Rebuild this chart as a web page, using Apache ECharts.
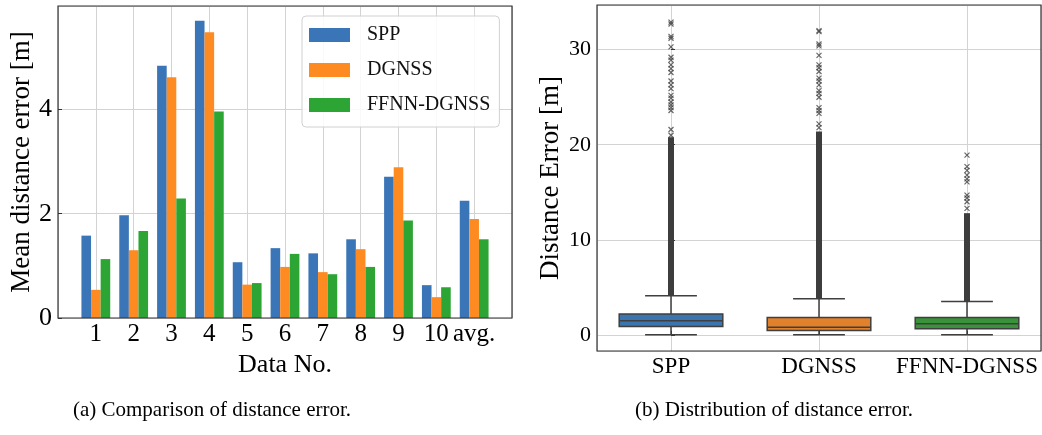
<!DOCTYPE html>
<html>
<head>
<meta charset="utf-8">
<script src="https://cdn.jsdelivr.net/npm/echarts@6/dist/echarts.min.js"></script>
<style>
  html, body { margin: 0; padding: 0; background: #fff; }
  #chart { width: 1042px; height: 435px; }
</style>
</head>
<body>
<div id="chart"></div>
<script>
// (a) mean distance error per data set
const dataNo = ["1", "2", "3", "4", "5", "6", "7", "8", "9", "10", "avg."];
const sppMean = [1.58, 1.97, 4.84, 5.70, 1.07, 1.34, 1.24, 1.51, 2.71, 0.63, 2.25];
const dgnssMean = [0.54, 1.30, 4.62, 5.48, 0.64, 0.98, 0.88, 1.32, 2.89, 0.40, 1.90];
const ffnnMean = [1.13, 1.67, 2.29, 3.96, 0.67, 1.23, 0.84, 0.98, 1.87, 0.59, 1.51];

// (b) distribution: [low whisker, q1, median, q3, high whisker]
const methods = ["SPP", "DGNSS", "FFNN-DGNSS"];
const boxStats = [
  [0, 0.87, 1.47, 2.20, 4.10],
  [0, 0.45, 0.81, 1.82, 3.80],
  [0, 0.63, 1.16, 1.82, 3.50],
];
// outliers so dense above the whisker that they merge into a band, up to:
const denseTop = [20.8, 21.4, 12.8];
// single outliers above the band
const sppOut = [21.0, 21.6, 23.6, 23.9, 24.2, 24.5, 24.9, 25.2, 25.9, 26.3, 26.7, 27.6, 28.0, 28.4, 28.9, 29.2, 30.3, 31.2, 31.4, 32.7, 32.9];
const dgnssOut = [21.8, 22.2, 23.3, 23.6, 23.9, 25.0, 25.4, 25.7, 26.3, 26.7, 27.0, 27.7, 28.1, 28.4, 29.4, 30.4, 30.6, 31.9, 32.0];
const ffnnOut = [13.3, 14.0, 14.4, 14.7, 16.1, 16.4, 16.8, 17.3, 17.7, 18.9];

const colors = ["#3a75b8", "#fe8b22", "#2ca534"];
const boxColors = ["#3a75b0", "#e1812c", "#3a923a"];
const font = "Liberation Serif";

// empty slots at both ends so the group spacing matches the figure
const xCats = [""].concat(dataNo, [""]);
const pad = (arr) => [null].concat(arr, [null]);

const outliers = [];
[sppOut, dgnssOut, ffnnOut].forEach((arr, i) => {
  arr.forEach((v) => outliers.push([i, v]));
});

const boxData = boxStats.map((s, i) => ({
  value: [i].concat(s, [denseTop[i]]),
  itemStyle: { color: boxColors[i] },
}));

function renderBox(params, api) {
  const x = api.value(0);
  const band = api.size([1, 0])[0];
  const boxW = band * 0.7;
  const capW = boxW * 0.5;
  const pLo = api.coord([x, api.value(1)]);
  const pQ1 = api.coord([x, api.value(2)]);
  const pMed = api.coord([x, api.value(3)]);
  const pQ3 = api.coord([x, api.value(4)]);
  const pHi = api.coord([x, api.value(5)]);
  const pTop = api.coord([x, api.value(6)]);
  const cx = pMed[0];
  const line = { stroke: "#3f3f3f", lineWidth: 1.5 };
  return {
    type: "group",
    children: [
      { type: "line", shape: { x1: cx, y1: pQ3[1], x2: cx, y2: pHi[1] }, style: line },
      { type: "line", shape: { x1: cx, y1: pQ1[1], x2: cx, y2: pLo[1] }, style: line },
      { type: "line", shape: { x1: cx - capW / 2, y1: pHi[1], x2: cx + capW / 2, y2: pHi[1] }, style: line },
      { type: "line", shape: { x1: cx - capW / 2, y1: pLo[1], x2: cx + capW / 2, y2: pLo[1] }, style: line },
      { type: "rect", shape: { x: cx - 3, y: pTop[1], width: 6, height: pHi[1] - pTop[1] }, style: { fill: "#3d3d3d" } },
      {
        type: "rect",
        shape: { x: cx - boxW / 2, y: pQ3[1], width: boxW, height: pQ1[1] - pQ3[1] },
        style: { fill: api.visual("color"), stroke: "#3f3f3f", lineWidth: 1.5 },
      },
      { type: "line", shape: { x1: cx - boxW / 2, y1: pMed[1], x2: cx + boxW / 2, y2: pMed[1] }, style: line },
    ],
  };
}

const gridLine = { show: true, lineStyle: { color: "#d3d3d3", width: 1 } };

const option = {
  animation: false,
  textStyle: { fontFamily: font },
  grid: [
    { left: 58, top: 6, width: 454, height: 312, show: true, z: 10, backgroundColor: "transparent", borderColor: "#333", borderWidth: 1.2 },
    { left: 597, top: 5, width: 444, height: 346, show: true, z: 10, backgroundColor: "transparent", borderColor: "#333", borderWidth: 1.2 },
  ],
  legend: {
    left: 302,
    top: 16,
    orient: "vertical",
    icon: "rect",
    itemWidth: 41,
    itemHeight: 14,
    itemGap: 15,
    padding: [9, 9, 12, 7],
    backgroundColor: "rgba(255,255,255,0.85)",
    borderColor: "#d0d0d0",
    borderWidth: 1,
    borderRadius: 4,
    textStyle: { fontFamily: font, fontSize: 20, color: "#111", padding: [0, 0, 0, 12] },
    data: ["SPP", "DGNSS", "FFNN-DGNSS"],
  },
  xAxis: [
    {
      gridIndex: 0,
      type: "category",
      data: xCats,
      boundaryGap: false,
      axisLine: { show: false },
      axisTick: { show: false },
      axisLabel: { color: "#000", fontSize: 25, fontFamily: font, margin: 4, interval: 0 },
      splitLine: gridLine,
      name: "Data No.",
      nameLocation: "middle",
      nameGap: 31,
      nameTextStyle: { color: "#000", fontSize: 26, fontFamily: font },
    },
    {
      // boxes sit at 0, 1, 2 with half a slot of margin on each side
      gridIndex: 1,
      type: "value",
      position: "bottom",
      min: -0.5,
      max: 2.5,
      splitNumber: 3,
      axisLine: { show: false },
      axisTick: { show: true, inside: true, length: 4, lineStyle: { color: "#333" } },
      axisLabel: {
        color: "#000",
        fontSize: 23,
        fontFamily: font,
        margin: 4,
        showMinLabel: false,
        showMaxLabel: false,
        formatter: (v) => (Number.isInteger(v) ? methods[v] || "" : ""),
      },
      splitLine: gridLine,
    },
  ],
  yAxis: [
    {
      gridIndex: 0,
      type: "value",
      min: 0,
      max: 5.985,
      interval: 2,
      axisLine: { show: false },
      axisTick: { show: true, inside: true, length: 4, lineStyle: { color: "#333" } },
      axisLabel: { color: "#000", fontSize: 26, fontFamily: font, margin: 6, showMaxLabel: false },
      splitLine: gridLine,
      name: "Mean distance error [m]",
      nameLocation: "middle",
      nameGap: 23,
      nameTextStyle: { color: "#000", fontSize: 27, fontFamily: font },
    },
    {
      gridIndex: 1,
      type: "value",
      min: -1.7,
      max: 34.7,
      splitNumber: 4,
      axisLine: { show: false },
      axisTick: { show: true, inside: true, length: 4, lineStyle: { color: "#333" } },
      axisLabel: { color: "#000", fontSize: 22, fontFamily: font, margin: 6, showMinLabel: false, showMaxLabel: false },
      splitLine: gridLine,
      name: "Distance Error [m]",
      nameLocation: "middle",
      nameGap: 33,
      nameTextStyle: { color: "#000", fontSize: 27, fontFamily: font },
    },
  ],
  series: [
    { name: "SPP", type: "bar", xAxisIndex: 0, yAxisIndex: 0, data: pad(sppMean), barWidth: 9.6, barGap: "0%", itemStyle: { color: colors[0] } },
    { name: "DGNSS", type: "bar", xAxisIndex: 0, yAxisIndex: 0, data: pad(dgnssMean), barWidth: 9.6, barGap: "0%", itemStyle: { color: colors[1] } },
    { name: "FFNN-DGNSS", type: "bar", xAxisIndex: 0, yAxisIndex: 0, data: pad(ffnnMean), barWidth: 9.6, barGap: "0%", itemStyle: { color: colors[2] } },
    {
      type: "custom",
      xAxisIndex: 1,
      yAxisIndex: 1,
      renderItem: renderBox,
      encode: { x: 0, y: [1, 2, 3, 4, 5, 6] },
      data: boxData,
      z: 5,
    },
    {
      type: "scatter",
      xAxisIndex: 1,
      yAxisIndex: 1,
      data: outliers,
      symbol: "path://M0,0L10,10M10,0L0,10",
      symbolSize: 5,
      itemStyle: { color: "none", borderColor: "#404040", borderWidth: 1.2 },
      z: 6,
    },
  ],
  graphic: [
    { type: "text", x: 212, y: 410, style: { text: "(a) Comparison of distance error.", font: "21px 'Liberation Serif'", fill: "#000", align: "center", verticalAlign: "middle" } },
    { type: "text", x: 774, y: 410, style: { text: "(b) Distribution of distance error.", font: "21px 'Liberation Serif'", fill: "#000", align: "center", verticalAlign: "middle" } },
  ],
};

const myChart = echarts.init(document.getElementById("chart"));
myChart.setOption(option);
</script>
</body>
</html>
